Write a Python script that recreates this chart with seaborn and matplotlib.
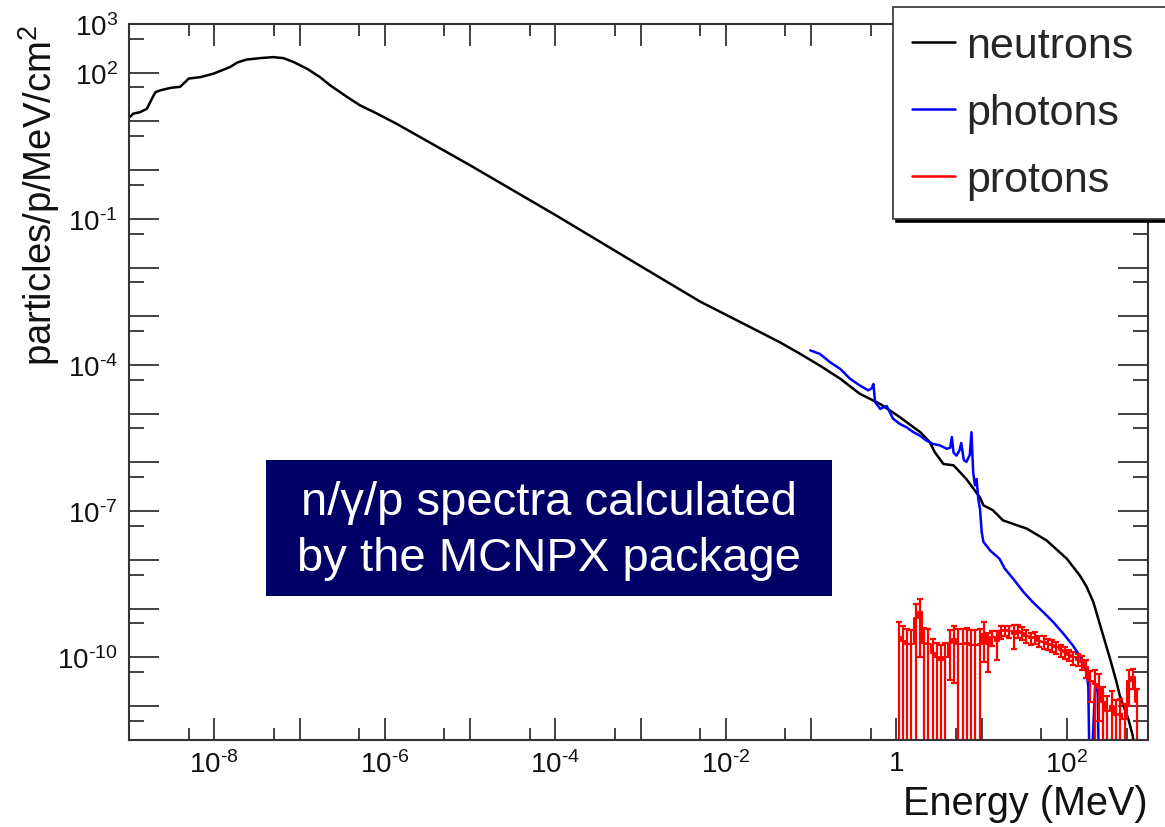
import matplotlib.pyplot as plt
import numpy as np
import seaborn as sns
from matplotlib.lines import Line2D
from matplotlib.patches import Rectangle
from matplotlib.ticker import FixedLocator, FuncFormatter, NullFormatter

# --- data (log10 of energy in MeV, log10 of flux) ---
NEUTRON_LOG_E = [
    -8.99, -8.95, -8.87, -8.79, -8.73, -8.69, -8.63, -8.51, -8.40, -8.34,
    -8.30, -8.16, -8.01, -7.91, -7.81, -7.73, -7.62, -7.46, -7.31, -7.19,
    -7.07, -6.91, -6.76, -6.64, -6.44, -6.29, -6.09, -5.86, -5.00, -4.00,
    -3.00, -2.30, -1.37, -1.13, -0.90, -0.66, -0.43, -0.19, 0.04, 0.28,
    0.39, 0.45, 0.55, 0.67, 0.82, 0.98, 1.02, 1.13, 1.25, 1.53,
    1.76, 2.00, 2.15, 2.23, 2.31, 2.39, 2.50, 2.58, 2.62, 2.72,
    2.77, 2.80,
]
NEUTRON_LOG_FLUX = [
    1.09, 1.16, 1.19, 1.26, 1.47, 1.60, 1.64, 1.69, 1.71, 1.81,
    1.88, 1.91, 1.98, 2.05, 2.12, 2.21, 2.27, 2.30, 2.32, 2.30,
    2.22, 2.08, 1.91, 1.74, 1.50, 1.33, 1.16, 0.95, 0.10, -0.92,
    -1.97, -2.70, -3.53, -3.77, -4.01, -4.28, -4.59, -4.80, -5.07, -5.38,
    -5.58, -5.79, -6.03, -6.06, -6.34, -6.72, -6.88, -6.98, -7.19, -7.36,
    -7.60, -7.98, -8.32, -8.55, -8.87, -9.35, -10.0, -10.5, -10.79, -11.27,
    -11.6, -12.0,
]

PHOTON_LOG_E = [
    -1.01, -0.90, -0.78, -0.66, -0.545, -0.43, -0.33, -0.29, -0.27, -0.25,
    -0.19, -0.14, -0.115, -0.04, 0.04, 0.12, 0.20, 0.275, 0.35, 0.43,
    0.51, 0.59, 0.63, 0.65, 0.67, 0.705, 0.74, 0.76, 0.79, 0.82,
    0.86, 0.88, 0.90, 0.92, 0.94, 0.96, 0.98, 1.00, 1.02, 1.10,
    1.21, 1.27, 1.37, 1.49, 1.60, 1.72, 1.84, 1.96, 2.07, 2.15,
    2.23, 2.25, 2.27, 2.33, 2.36, 2.38,
]
PHOTON_LOG_FLUX = [
    -3.70, -3.77, -3.94, -4.08, -4.28, -4.42, -4.52, -4.48, -4.39, -4.76,
    -4.90, -4.86, -4.84, -5.10, -5.21, -5.28, -5.38, -5.45, -5.55, -5.62,
    -5.65, -5.72, -5.70, -5.48, -5.80, -5.86, -5.75, -5.60, -5.95, -5.99,
    -5.85, -5.38, -6.20, -6.47, -6.34, -6.75, -6.96, -7.43, -7.63, -7.81,
    -7.98, -8.18, -8.39, -8.66, -8.87, -9.07, -9.28, -9.52, -9.76, -9.97,
    -10.31, -10.6, -13.0, -10.6, -10.7, -13.0,
]

PROTON_LOG_E = [
    0.025, 0.075, 0.125, 0.175, 0.225, 0.275, 0.325, 0.375, 0.425, 0.475,
    0.525, 0.575, 0.625, 0.675, 0.725, 0.775, 0.825, 0.875, 0.925, 0.975,
    1.025, 1.075, 1.125, 1.175, 1.225, 1.275, 1.325, 1.375, 1.425, 1.475,
    1.525, 1.575, 1.625, 1.675, 1.725, 1.775, 1.825, 1.875, 1.925, 1.975,
    2.025, 2.075, 2.125, 2.175, 2.225, 2.275, 2.325, 2.375, 2.425, 2.475,
    2.525, 2.575, 2.625, 2.675, 2.725, 2.775, 2.825,
]
# proton flux and its error, in units of 1e-10
PROTON_FLUX = [
    2.6, 2.2, 1.9, 1.85, 6.3, 8.5, 2.0, 1.9, 1.2, 1.0,
    0.9, 1.0, 1.95, 2.35, 1.9, 1.9, 2.0, 1.8, 1.8, 1.9,
    3.0, 1.85, 2.6, 2.2, 3.4, 3.6, 3.4, 3.0, 3.5, 3.2,
    2.8, 2.5, 2.6, 2.2, 2.1, 1.9, 1.8, 1.6, 1.4, 1.26,
    1.12, 1.0, 0.9, 0.8, 0.63, 0.32, 0.28, 0.25, 0.12, 0.08,
    0.1, 0.065, 0.07, 0.055, 0.32, 0.4, 0.12,
]
PROTON_ERR = [
    2.6, 2.2, 1.9, 1.85, 6.3, 7.5, 2.0, 1.9, 1.2, 1.0,
    0.9, 1.0, 1.6, 2.05, 1.9, 1.9, 2.0, 1.8, 1.8, 1.9,
    2.2, 1.35, 0.9, 1.3, 1.0, 0.8, 0.9, 1.5, 1.0, 0.9,
    0.8, 0.7, 0.7, 0.6, 0.6, 0.5, 0.5, 0.45, 0.4, 0.35,
    0.3, 0.3, 0.25, 0.25, 0.25, 0.2, 0.28, 0.2, 0.12, 0.08,
    0.1, 0.065, 0.07, 0.055, 0.22, 0.18, 0.1,
]

SERIES_LABELS = ["neutrons", "photons", "protons"]
SERIES_COLORS = ["black", "#0000ff", "#ff0000"]
X_LABEL_EXPS = [-8, -6, -4, -2, 0, 2]
Y_LABEL_EXPS = [3, 2, -1, -4, -7, -10]

sns.set_theme(style="ticks")
plt.rcParams["font.family"] = ["Liberation Sans", "DejaVu Sans"]
plt.rcParams["mathtext.default"] = "regular"

fig = plt.figure(figsize=(11.65, 8.28), dpi=100)
ax = fig.add_axes([0.1107, 0.105, 0.8747, 0.8648])

n_e = 10 ** np.array(NEUTRON_LOG_E)
n_f = 10 ** np.array(NEUTRON_LOG_FLUX)
g_e = 10 ** np.array(PHOTON_LOG_E)
g_f = 10 ** np.array(PHOTON_LOG_FLUX)
p_e = 10 ** np.array(PROTON_LOG_E)
p_f = np.array(PROTON_FLUX) * 1e-10
p_err = np.array(PROTON_ERR) * 1e-10

sns.lineplot(x=n_e, y=n_f, ax=ax, color=SERIES_COLORS[0], lw=1.8,
             estimator=None, sort=False)
sns.lineplot(x=g_e, y=g_f, ax=ax, color=SERIES_COLORS[1], lw=1.8,
             estimator=None, sort=False)
sns.lineplot(x=p_e, y=p_f, ax=ax, color=SERIES_COLORS[2], lw=1.5,
             estimator=None, sort=False, drawstyle="steps-mid")
ax.errorbar(p_e, p_f, yerr=p_err, fmt="none", ecolor=SERIES_COLORS[2],
            elinewidth=1.6, capsize=2.5, capthick=1.6)

ax.set_xscale("log")
ax.set_yscale("log", nonpositive="clip")
ax.set_xlim(1e-9, 10 ** 2.95)
ax.set_ylim(2e-12, 1e3)

ax.xaxis.set_major_locator(FixedLocator(10.0 ** np.arange(-9, 3)))
ax.xaxis.set_minor_locator(FixedLocator(5 * 10.0 ** np.arange(-10, 3)))
ax.yaxis.set_major_locator(FixedLocator(10.0 ** np.arange(-12, 4)))
ax.yaxis.set_minor_locator(FixedLocator(5 * 10.0 ** np.arange(-13, 3)))


def exp_label(v, allowed):
    e = int(round(np.log10(v)))
    if e not in allowed:
        return ""
    if e == 0:
        return "1"
    sign = "\u2010" if e < 0 else ""
    return f"$10^{{{sign}{abs(e)}}}$"


ax.xaxis.set_major_formatter(FuncFormatter(lambda v, p: exp_label(v, X_LABEL_EXPS)))
ax.yaxis.set_major_formatter(FuncFormatter(lambda v, p: exp_label(v, Y_LABEL_EXPS)))
ax.xaxis.set_minor_formatter(NullFormatter())
ax.yaxis.set_minor_formatter(NullFormatter())

ax.tick_params(axis="both", which="both", direction="in", top=True, right=True,
               color="#333333", width=1.3, labelcolor="#111111", labelsize=20)
ax.tick_params(axis="x", which="major", length=16, pad=7)
ax.tick_params(axis="x", which="minor", length=8.6)
ax.tick_params(axis="y", which="major", length=21.6, pad=8)
ax.tick_params(axis="y", which="minor", length=10.8)
for sp in ax.spines.values():
    sp.set_color("#333333")
    sp.set_linewidth(1.5)

ax.set_xlabel("Energy (MeV)", fontsize=28.5, loc="right", color="#111111")
ax.xaxis.set_label_coords(1.0, -0.062)
ax.set_ylabel("particles/p/MeV/cm$^{2}$", fontsize=27.5, loc="top", color="#111111")
ax.yaxis.set_label_coords(-0.066, 1.0)

handles = [Line2D([], [], color=c, lw=1.8) for c in SERIES_COLORS]
leg = ax.legend(handles, SERIES_LABELS, loc="upper left",
                bbox_to_anchor=(893 / 1165, 0.745, 0.25, 1 - 8 / 828 - 0.745),
                bbox_transform=fig.transFigure, mode="expand",
                fontsize=31, frameon=True, fancybox=False,
                shadow={"color": "black", "alpha": 1},
                handlelength=1.0, handletextpad=0.25, borderpad=0.45,
                labelspacing=0.62, borderaxespad=0)
leg.get_frame().set_edgecolor("#333333")
leg.get_frame().set_linewidth(1.2)
leg.get_frame().set_alpha(1)

fig.add_artist(Rectangle((266 / 1165, 1 - 597 / 828), 566 / 1165, 136 / 828,
                         transform=fig.transFigure, facecolor="#000066",
                         edgecolor="none", zorder=2))
fig.text(549 / 1165, 1 - 531 / 828,
         "n/\u03b3/p spectra calculated\nby the MCNPX package",
         ha="center", va="center", color="white", fontsize=34,
         linespacing=1.35, zorder=3)

fig.savefig("out.png", dpi=100)
